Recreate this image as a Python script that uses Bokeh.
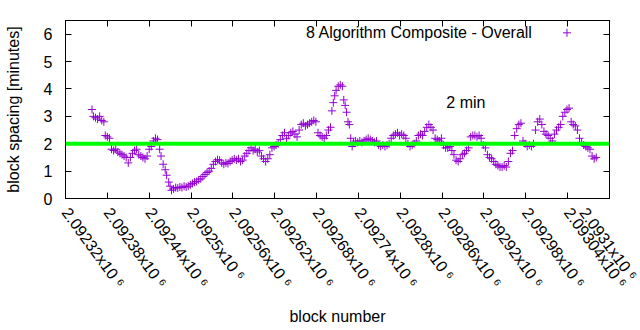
import math
from bokeh.plotting import figure
from bokeh.models import Span, FixedTicker, LinearAxis, Range1d
from bokeh.embed import file_html
from bokeh.resources import INLINE
from bokeh.core.properties import value

# ---------------- data ----------------
BASE_BLOCK = 2092320
block_offset = [
    38, 40, 43, 46, 49, 52, 55, 57, 60, 63,
    66, 69, 72, 75, 78, 81, 84, 87, 90, 93,
    96, 99, 102, 105, 108, 111, 114, 117, 120, 123,
    126, 129, 132, 135, 137, 140, 143, 145, 148, 150,
    152, 155, 158, 161, 164, 167, 170, 173, 176, 179,
    182, 185, 188, 191, 194, 197, 200, 203, 206, 209,
    212, 215, 218, 221, 224, 227, 230, 233, 236, 239,
    242, 245, 248, 251, 254, 257, 260, 263, 266, 269,
    272, 275, 278, 281, 284, 287, 290, 293, 296, 299,
    302, 305, 308, 311, 314, 317, 320, 323, 326, 329,
    332, 335, 338, 341, 344, 347, 350, 353, 356, 359,
    362, 365, 368, 371, 374, 377, 380, 382, 384, 386,
    388, 391, 394, 397, 399, 401, 403, 405, 407, 409,
    411, 413, 416, 419, 422, 425, 428, 431, 434, 437,
    440, 443, 446, 449, 452, 455, 458, 461, 464, 467,
    470, 473, 476, 479, 482, 485, 488, 491, 494, 497,
    500, 503, 506, 509, 512, 515, 518, 521, 524, 527,
    530, 533, 536, 539, 542, 545, 548, 551, 554, 557,
    560, 563, 566, 569, 572, 575, 578, 581, 584, 587,
    590, 593, 596, 599, 602, 605, 608, 611, 614, 617,
    620, 623, 626, 629, 632, 635, 638, 641, 644, 647,
    650, 653, 656, 659, 662, 665, 668, 671, 674, 677,
    680, 683, 686, 689, 692, 695, 698, 701, 704, 707,
    710, 713, 716, 719, 722, 725, 728, 731, 734, 737,
    740, 743, 746, 749, 752, 755, 758, 761,
]
spacing_minutes = [
    3.25, 3.0, 2.95, 2.9, 3.0, 2.85, 2.8, 2.3, 2.25, 2.2,
    1.8, 1.75, 1.8, 1.7, 1.65, 1.6, 1.55, 1.5, 1.3, 1.5,
    1.65, 1.75, 1.8, 1.6, 1.55, 1.5, 1.45, 1.55, 1.8, 1.9,
    2.1, 2.2, 2.15, 1.8, 1.55, 1.25, 1.05, 0.85, 0.6, 0.45,
    0.3, 0.35, 0.4, 0.38, 0.42, 0.4, 0.45, 0.42, 0.45, 0.5,
    0.55, 0.6, 0.62, 0.68, 0.72, 0.8, 0.88, 0.95, 1.0, 1.1,
    1.25, 1.35, 1.42, 1.4, 1.3, 1.25, 1.3, 1.28, 1.35, 1.4,
    1.45, 1.4, 1.45, 1.35, 1.4, 1.55, 1.65, 1.75, 1.85, 1.75,
    1.8, 1.7, 1.75, 1.55, 1.45, 1.35, 1.45, 1.6, 1.85, 1.9,
    1.95, 2.0, 2.15, 2.3, 2.4, 2.2, 2.3, 2.4, 2.45, 2.35,
    2.25, 2.5, 2.7, 2.75, 2.65, 2.7, 2.75, 2.8, 2.85, 2.8,
    2.4, 2.3, 2.25, 2.2, 2.3, 2.5, 2.6, 3.2, 3.5, 3.75,
    3.95, 4.1, 4.15, 4.1, 3.6, 3.4, 3.15, 2.8, 2.7, 2.2,
    1.9, 2.05, 2.1, 2.05, 2.1, 2.05, 2.1, 2.15, 2.2, 2.15,
    2.1, 2.05, 2.1, 1.95, 1.9, 1.95, 1.9, 1.95, 2.0, 2.2,
    2.3, 2.35, 2.4, 2.3, 2.35, 2.3, 2.2, 2.0, 1.9, 1.95,
    2.0, 2.1, 2.3, 2.35, 2.3, 2.45, 2.6, 2.7, 2.6, 2.5,
    2.2, 2.15, 2.1, 2.2, 1.95, 1.85, 1.85, 1.9, 1.75, 1.6,
    1.4, 1.35, 1.45, 1.6, 1.65, 1.75, 1.85, 2.25, 2.3, 2.3,
    2.25, 2.3, 2.2, 1.95, 1.85, 1.6, 1.5, 1.45, 1.35, 1.25,
    1.2, 1.15, 1.15, 1.2, 1.15, 1.35, 1.65, 1.75, 2.3, 2.55,
    2.7, 2.75, 2.1, 2.0, 1.9, 1.95, 1.9, 2.0, 2.5, 2.8,
    2.9, 2.7, 2.45, 2.35, 2.3, 2.2, 2.1, 2.35, 2.5, 2.6,
    2.7, 3.0, 3.15, 3.25, 3.3, 2.8, 2.7, 2.65, 2.5, 2.2,
    2.05, 1.95, 1.9, 1.85, 1.8, 1.55, 1.45, 1.5,
]
block_number = [BASE_BLOCK + o for o in block_offset]

x_ticks = [2092320, 2092380, 2092440, 2092500, 2092560, 2092620, 2092680,
           2092740, 2092800, 2092860, 2092920, 2092980, 2093040, 2093100]
x_tick_labels = ["2.09232x10 ⁶", "2.09238x10 ⁶", "2.09244x10 ⁶", "2.0925x10 ⁶",
                 "2.09256x10 ⁶", "2.09262x10 ⁶", "2.09268x10 ⁶", "2.09274x10 ⁶",
                 "2.0928x10 ⁶", "2.09286x10 ⁶", "2.09292x10 ⁶", "2.09298x10 ⁶",
                 "2.09304x10 ⁶", "2.0931x10 ⁶"]
y_ticks = [0, 1, 2, 3, 4, 5, 6]
target_minutes = 2
series_name = "8 Algorithm Composite - Overall"
target_name = "2 min"

# ---------------- styling ----------------
FONT = "Liberation Sans"
FS = "16px"
PURPLE = "#9400d3"
GREEN = "#00ff00"

p = figure(width=640, height=330, output_backend="svg", toolbar_location=None,
           x_range=Range1d(2092320, 2093100), y_range=Range1d(0, 6.5),
           min_border_left=65, min_border_right=31, min_border_top=20,
           min_border_bottom=132)
p.background_fill_color = "white"
p.border_fill_color = "white"
p.outline_line_color = "black"
p.outline_line_width = 1
p.grid.visible = False

p.scatter(block_number, spacing_minutes, marker="cross", size=8,
          line_color=PURPLE, line_width=1)

p.add_layout(Span(location=target_minutes, dimension="width",
                  line_color=GREEN, line_width=4))

# labels inside plot
p.text(x=[2092866], y=[3.5], text=[target_name], text_align="left",
       text_baseline="middle", text_font=value(FONT), text_font_size=FS,
       text_color="black")
p.text(x=[2092990], y=[6.05], text=[series_name], text_align="right",
       text_baseline="middle", text_font=value(FONT), text_font_size=FS,
       text_color="black")
p.scatter([2093039], [6.05], marker="cross", size=8, line_color=PURPLE,
          line_width=1)

def style_axis(ax):
    ax.major_tick_in = 6
    ax.major_tick_out = 0
    ax.minor_tick_in = 0
    ax.minor_tick_out = 0
    ax.axis_line_color = "black"
    ax.major_tick_line_color = "black"
    ax.major_label_text_font = FONT
    ax.major_label_text_font_size = FS
    ax.major_label_text_color = "black"
    ax.axis_label_text_font = FONT
    ax.axis_label_text_font_size = FS
    ax.axis_label_text_font_style = "normal"
    ax.axis_label_text_color = "black"

xa = p.xaxis[0]
ya = p.yaxis[0]
style_axis(xa)
style_axis(ya)
xa.ticker = FixedTicker(ticks=x_ticks)
xa.major_label_overrides = dict(zip(x_ticks, x_tick_labels))
xa.major_label_orientation = -54 * math.pi / 180
xa.major_label_standoff = 11
xa.axis_label = "block number"
xa.axis_label_standoff = 9

ya.ticker = FixedTicker(ticks=y_ticks)
ya.major_label_standoff = 13
ya.axis_label = "block spacing [minutes]"
ya.axis_label_standoff = 19

# mirrored ticks (top and right), without labels
top = LinearAxis(ticker=FixedTicker(ticks=x_ticks))
right = LinearAxis(ticker=FixedTicker(ticks=y_ticks))
for ax, ticks in ((top, x_ticks), (right, y_ticks)):
    style_axis(ax)
    ax.major_label_overrides = {t: "" for t in ticks}
    ax.major_label_standoff = 0
p.add_layout(top, "above")
p.add_layout(right, "right")

open("out.html", "w").write(file_html(p, INLINE))
